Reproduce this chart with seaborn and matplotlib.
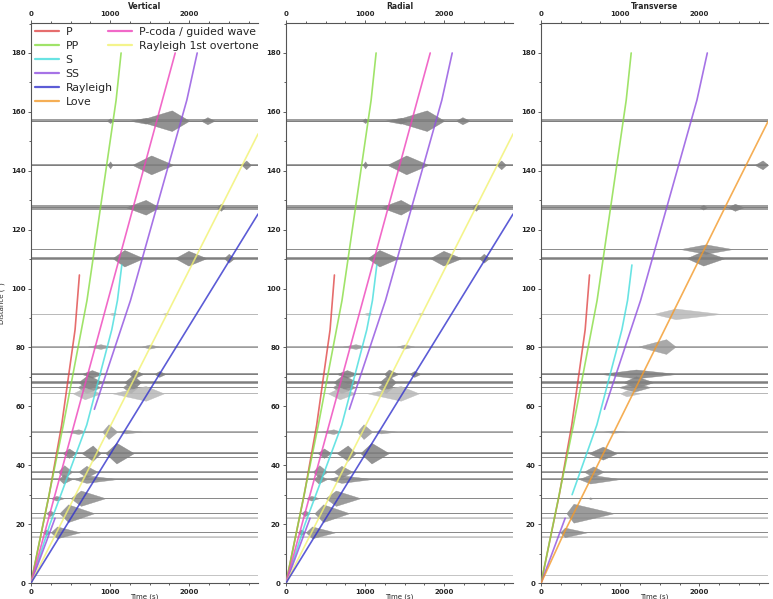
import pandas as pd
import matplotlib.pyplot as plt
import seaborn as sns
from matplotlib.lines import Line2D
from matplotlib.ticker import MultipleLocator, AutoMinorLocator

# Khoang cach cua cac trace (truc y)
DIST = [2.7, 15.7, 17.2, 22.2, 23.7, 28.8, 35.3, 37.8, 42.7, 44.1, 51.4,
        64.4, 66.5, 68.2, 71.0, 80.3, 91.4, 110.3, 113.4, 127.6, 142.0, 157.0]
# Mau xam cua tung trace
SHADE = ["#c4c4c4", "#c4c4c4", "#8a8a8a", "#c4c4c4", "#8a8a8a", "#8a8a8a",
         "#8a8a8a", "#8a8a8a", "#8a8a8a", "#7f7f7f", "#9a9a9a", "#b8b8b8",
         "#8a8a8a", "#7f7f7f", "#7f7f7f", "#9a9a9a", "#b8b8b8", "#7f7f7f",
         "#8a8a8a", "#7f7f7f", "#7f7f7f", "#7f7f7f"]
# Muc nhieu nen (don vi khoang cach)
NOISE_VR = [0.15, 0.15, 0.2, 0.15, 0.2, 0.2, 0.2, 0.2, 0.2, 0.45, 0.15,
            0.15, 0.2, 0.45, 0.25, 0.15, 0.1, 0.5, 0.1, 0.9, 0.35, 0.45]
NOISE_T = [0.15, 0.15, 0.2, 0.15, 0.2, 0.2, 0.2, 0.2, 0.15, 0.3, 0.1,
           0.1, 0.15, 0.45, 0.2, 0.15, 0.1, 0.5, 0.1, 0.8, 0.35, 0.5]

# Goi song: (khoang cach, t bat dau, t dinh, t ket thuc, bien do)
PACKETS_VR = [
    (157.0, 1350, 1780, 2000, 3.5), (157.0, 960, 1000, 1040, 0.8),
    (157.0, 2150, 2230, 2320, 1.2), (157.0, 1250, 1450, 1550, 1.0),
    (142.0, 1280, 1520, 1800, 3.2), (142.0, 970, 1000, 1030, 1.2),
    (142.0, 2660, 2720, 2780, 1.5),
    (127.6, 1200, 1450, 1620, 2.5), (127.6, 2350, 2400, 2450, 1.2),
    (110.3, 1030, 1180, 1420, 2.8), (110.3, 1820, 1990, 2220, 2.5),
    (110.3, 2440, 2500, 2570, 1.5),
    (91.4, 980, 1030, 1100, 0.4), (91.4, 1650, 1700, 1760, 0.3),
    (80.3, 720, 880, 1000, 0.8), (80.3, 1400, 1500, 1620, 0.7),
    (71.0, 640, 770, 900, 1.3), (71.0, 1240, 1300, 1420, 1.5),
    (71.0, 1560, 1620, 1700, 1.0),
    (68.2, 600, 720, 900, 2.5), (68.2, 1180, 1290, 1390, 2.5),
    (66.5, 590, 700, 880, 2.0), (66.5, 1160, 1260, 1350, 2.0),
    (64.4, 530, 680, 880, 2.0), (64.4, 1030, 1450, 1680, 2.5),
    (51.4, 440, 600, 690, 0.8), (51.4, 900, 980, 1090, 2.5),
    (51.4, 1090, 1200, 1400, 0.6),
    (44.1, 400, 480, 570, 1.6), (44.1, 640, 780, 880, 2.6),
    (44.1, 940, 1080, 1300, 3.5),
    (37.8, 340, 420, 520, 2.2), (37.8, 600, 700, 840, 2.0),
    (35.3, 350, 410, 520, 1.5), (35.3, 540, 700, 1090, 1.3),
    (28.8, 250, 320, 420, 0.8), (28.8, 500, 630, 940, 2.6),
    (23.7, 190, 240, 300, 1.0), (23.7, 360, 470, 800, 3.0),
    (17.2, 150, 190, 240, 1.0), (17.2, 250, 330, 620, 2.0),
]
PACKETS_T = [
    (142.0, 2700, 2800, 2870, 1.5),
    (127.6, 2360, 2450, 2560, 1.2), (127.6, 2000, 2050, 2100, 0.8),
    (113.4, 1760, 2080, 2420, 1.6),
    (110.3, 1840, 2050, 2320, 2.5),
    (91.4, 1420, 1700, 2270, 1.8),
    (80.3, 1230, 1580, 1700, 2.5),
    (71.0, 750, 1200, 1720, 1.5),
    (68.2, 1040, 1200, 1420, 2.0),
    (66.5, 980, 1180, 1380, 1.5),
    (64.4, 1000, 1080, 1250, 1.0),
    (51.4, 790, 900, 1090, 0.4),
    (44.1, 600, 780, 960, 2.2),
    (37.8, 540, 660, 790, 1.8),
    (35.3, 480, 620, 1000, 1.5),
    (28.8, 600, 620, 650, 0.3),
    (23.7, 320, 410, 920, 3.2),
    (17.2, 240, 300, 580, 1.6),
]

# Duong thoi gian truyen song (thoi gian, khoang cach)
P_T, P_D = [0, 230, 388, 557, 612], [0, 30, 53.7, 86, 104.6]
PP_T, PP_D = [0, 409, 708, 1076, 1139], [0, 53.7, 96, 164, 180]
S_T, S_D = [0, 240, 705, 1021, 1093, 1148], [0, 20, 53.7, 86, 96, 108]
SH_T, SH_D = [392, 705, 1021, 1093, 1148], [30, 53.7, 86, 96, 108]
SS_T, SS_D = [801, 1258, 1970, 2101], [59, 96, 164, 180]
SS_LOW_T, SS_LOW_D = [0, 304], [0, 22]
PCODA_T, PCODA_D = [0, 1823], [0, 180]
R1_T, R1_D = [0, 2870], [0, 152.5]
R_T, R_D = [0, 2870], [0, 125.3]
LOVE_T, LOVE_D = [0, 290, 2370, 2870], [0, 17, 130, 156.8]

COLORS = {
    "P": "#e04848", "PP": "#88dd44", "S": "#44dddd", "SS": "#9050e0",
    "Rayleigh": "#3333cc", "Love": "#f39a2a",
    "P-coda / guided wave": "#ee44bb", "Rayleigh 1st overtone": "#f2f270",
}

XMAX, YMAX = 2870, 190.2


def phase_table(segments):
    rows = []
    for k, (name, ts, ds) in enumerate(segments):
        for t, d in zip(ts, ds):
            rows.append({"time": t, "dist": d, "phase": name, "seg": k})
    return pd.DataFrame(rows)


SEG_VR = [("P", P_T, P_D), ("PP", PP_T, PP_D), ("S", S_T, S_D),
          ("SS", SS_T, SS_D), ("SS", SS_LOW_T, SS_LOW_D),
          ("P-coda / guided wave", PCODA_T, PCODA_D),
          ("Rayleigh 1st overtone", R1_T, R1_D), ("Rayleigh", R_T, R_D)]
SEG_T = [("P", P_T, P_D), ("PP", PP_T, PP_D), ("S", SH_T, SH_D),
         ("SS", SS_T, SS_D), ("SS", SS_LOW_T, SS_LOW_D),
         ("Love", LOVE_T, LOVE_D)]


def draw_panel(ax, noise, packets, segments, title):
    # Ve cac trace (nen nhieu + goi song)
    shade_of = dict(zip(DIST, SHADE))
    for d, n, c in zip(DIST, noise, SHADE):
        ax.fill_between([0, XMAX], [d - n, d - n], [d + n, d + n],
                        color=c, lw=0, alpha=0.75, zorder=1)
        ax.plot([0, XMAX], [d, d], color=c, lw=0.7, zorder=1)
    for d, t0, tp, t1, a in packets:
        ax.fill_between([t0, tp, t1], [d, d - a, d], [d, d + a, d],
                        color=shade_of[d], lw=0.3, alpha=0.85, zorder=2)

    # Ve duong pha bang seaborn
    df = phase_table(segments)
    sns.lineplot(data=df, x="time", y="dist", hue="phase", units="seg",
                 estimator=None, sort=False, palette=COLORS, legend=False,
                 lw=1.2, alpha=0.8, ax=ax, zorder=3)

    ax.set_xlim(0, XMAX)
    ax.set_ylim(0, YMAX)
    ax.xaxis.set_major_locator(MultipleLocator(1000))
    ax.xaxis.set_minor_locator(AutoMinorLocator(4))
    ax.yaxis.set_major_locator(MultipleLocator(20))
    ax.yaxis.set_minor_locator(AutoMinorLocator(2))
    ax.tick_params(which="both", top=True, labeltop=True, labelsize=5,
                   width=0.6, color="#444444", pad=1.5)
    ax.tick_params(which="major", length=2.5)
    ax.tick_params(which="minor", length=1.3)
    ax.spines["right"].set_visible(False)
    for s in ["left", "bottom", "top"]:
        ax.spines[s].set_linewidth(0.8)
        ax.spines[s].set_color("#555555")
    ax.set_title(title, fontsize=5.5, fontweight="bold", pad=2)
    ax.set_xlabel("Time (s)", fontsize=5, labelpad=-1)
    ax.set_ylabel("")


def main():
    sns.set_style("ticks")
    plt.rcParams["font.family"] = ["DejaVu Sans"]
    plt.rcParams["font.weight"] = "bold"

    fig = plt.figure(figsize=(7.73, 5.99), dpi=100)
    lefts = [0.0401, 0.370, 0.700]
    axes = [fig.add_axes([l, 0.0267, 0.2937, 0.935]) for l in lefts]

    draw_panel(axes[0], NOISE_VR, PACKETS_VR, SEG_VR, "Vertical")
    draw_panel(axes[1], NOISE_VR, PACKETS_VR, SEG_VR, "Radial")
    draw_panel(axes[2], NOISE_T, PACKETS_T, SEG_T, "Transverse")

    axes[0].set_ylabel("Distance (°)", fontsize=5)
    axes[0].yaxis.set_label_coords(-0.11, 0.5)

    # Chu thich 2 cot
    names = ["P", "PP", "S", "SS", "Rayleigh", "Love",
             "P-coda / guided wave", "Rayleigh 1st overtone"]
    handles = [Line2D([], [], color=COLORS[n], lw=1.6, alpha=0.8) for n in names]
    blank = Line2D([], [], color="none")
    handles += [blank] * 4
    labels = names + [""] * 4
    axes[0].legend(handles, labels, ncol=2, loc="upper left", frameon=False,
                   prop={"size": 7.8, "weight": "normal"}, labelspacing=0.36,
                   handlelength=2.2, handletextpad=0.6, columnspacing=-0.4,
                   borderpad=0.2, borderaxespad=0.2)

    fig.savefig("out.png", dpi=100)


if __name__ == "__main__":
    main()
